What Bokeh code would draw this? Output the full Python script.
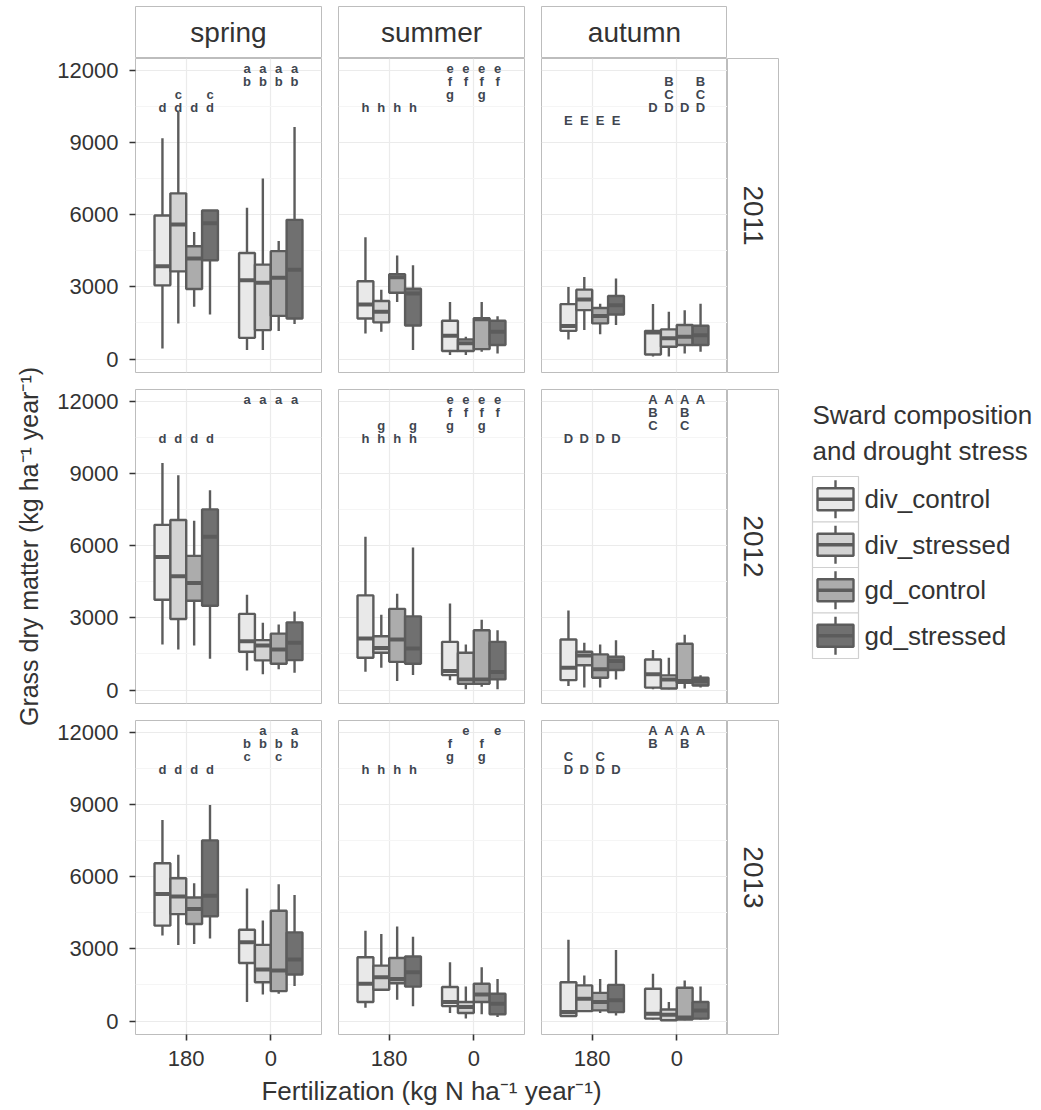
import math
from bokeh.plotting import figure
from bokeh.models import Range1d, FixedTicker, Label
from bokeh.layouts import row, column
from bokeh.core.properties import value
from bokeh.embed import file_html
from bokeh.resources import INLINE

# ---------------- data ----------------
seasons = ["spring", "summer", "autumn"]
years = ["2011", "2012", "2013"]
treatments = ["div_control", "div_stressed", "gd_control", "gd_stressed"]
fert_levels = ["180", "0"]
y_ticks = [0, 3000, 6000, 9000, 12000]
y_minor = [1500, 4500, 7500, 10500]

# each box: (lower whisker, Q1, median, Q3, upper whisker)
# order: fert 180 (4 treatments) then fert 0 (4 treatments)
spring_2011 = [(440, 3060, 3850, 5960, 9170), (1480, 3640, 5590, 6880, 10260),
               (2170, 2910, 4170, 4680, 5270), (1850, 4100, 5640, 6170, 6170),
               (370, 880, 3270, 4400, 6280), (370, 1200, 3170, 3920, 7500),
               (1160, 1790, 3370, 4480, 4900), (1450, 1680, 3710, 5780, 9640)]
summer_2011 = [(1060, 1680, 2260, 3230, 5060), (1130, 1520, 1960, 2410, 2880),
               (2370, 2750, 3400, 3520, 4300), (370, 1390, 2720, 2920, 3890),
               (170, 330, 970, 1590, 2370), (170, 330, 650, 810, 920),
               (300, 410, 1650, 1690, 2370), (230, 580, 1130, 1590, 1780)]
autumn_2011 = [(810, 1170, 1370, 2280, 2990), (1200, 2030, 2470, 2880, 3410),
               (1030, 1480, 1790, 2120, 2300), (1410, 1850, 2230, 2620, 3340),
               (100, 190, 1100, 1170, 2280), (100, 510, 860, 1230, 1960),
               (230, 580, 920, 1410, 2030), (300, 580, 990, 1380, 2300)]
spring_2012 = [(1890, 3750, 5520, 6860, 9430), (1680, 2950, 4720, 7060, 8920),
               (1850, 3710, 4440, 5570, 7030), (1300, 3500, 6370, 7500, 8300),
               (810, 1590, 2030, 3160, 3960), (650, 1230, 1850, 2070, 2790),
               (860, 1090, 1680, 2340, 2720), (720, 1240, 1960, 2810, 3260)]
summer_2012 = [(760, 1340, 2140, 3930, 6370), (920, 1550, 1750, 2230, 3130),
               (370, 1170, 2100, 3370, 4000), (620, 1090, 1720, 3060, 5920),
               (410, 620, 790, 2000, 3590), (30, 260, 440, 1550, 1890),
               (140, 260, 440, 2480, 2920), (30, 440, 750, 2000, 2480)]
autumn_2012 = [(170, 410, 920, 2100, 3300), (100, 1030, 1430, 1590, 1960),
               (100, 510, 860, 1480, 1890), (440, 830, 1200, 1380, 2070),
               (30, 100, 650, 1270, 1660), (30, 60, 440, 610, 1340),
               (60, 300, 370, 1920, 2300), (100, 190, 370, 510, 610)]
spring_2013 = [(3550, 3960, 5270, 6550, 8350), (3160, 4440, 5170, 5930, 6900),
               (3200, 4030, 4650, 5130, 5720), (3430, 4350, 5200, 7500, 8970),
               (790, 2410, 3270, 3790, 5500), (1100, 1610, 2140, 3160, 4170),
               (1130, 1240, 2100, 4580, 5680), (1450, 1930, 2550, 3680, 5230)]
summer_2013 = [(550, 790, 1550, 2650, 3750), (1250, 1300, 1820, 2300, 3610),
               (880, 1570, 1750, 2620, 3930), (610, 1430, 2030, 2680, 3500),
               (330, 620, 790, 1410, 2440), (100, 330, 580, 790, 1430),
               (280, 790, 1100, 1550, 2230), (170, 280, 720, 1130, 1750)]
autumn_2013 = [(170, 210, 370, 1610, 3370), (370, 410, 920, 1480, 1890),
               (330, 440, 790, 1170, 1750), (230, 370, 860, 1500, 2950),
               (60, 100, 300, 1340, 1960), (0, 30, 260, 480, 790),
               (30, 60, 150, 1380, 1680), (60, 100, 440, 790, 1430)]

# significance letters per box (same order)
spring_2011_letters = ["d", "cd", "d", "cd", "ab", "ab", "ab", "ab"]
summer_2011_letters = ["h", "h", "h", "h", "efg", "ef", "efg", "ef"]
autumn_2011_letters = ["E", "E", "E", "E", "D", "BCD", "D", "BCD"]
spring_2012_letters = ["d", "d", "d", "d", "a", "a", "a", "a"]
summer_2012_letters = ["h", "gh", "h", "gh", "efg", "ef", "efg", "ef"]
autumn_2012_letters = ["D", "D", "D", "D", "ABC", "A", "ABC", "A"]
spring_2013_letters = ["d", "d", "d", "d", "bc", "ab", "bc", "ab"]
summer_2013_letters = ["h", "h", "h", "h", "fg", "e", "fg", "e"]
autumn_2013_letters = ["CD", "D", "CD", "D", "AB", "A", "AB", "A"]

letter_base = {"spring": "a", "summer": "e", "autumn": "A"}

stats = {
    ("spring", "2011"): spring_2011, ("summer", "2011"): summer_2011, ("autumn", "2011"): autumn_2011,
    ("spring", "2012"): spring_2012, ("summer", "2012"): summer_2012, ("autumn", "2012"): autumn_2012,
    ("spring", "2013"): spring_2013, ("summer", "2013"): summer_2013, ("autumn", "2013"): autumn_2013,
}
letters = {
    ("spring", "2011"): spring_2011_letters, ("summer", "2011"): summer_2011_letters,
    ("autumn", "2011"): autumn_2011_letters, ("spring", "2012"): spring_2012_letters,
    ("summer", "2012"): summer_2012_letters, ("autumn", "2012"): autumn_2012_letters,
    ("spring", "2013"): spring_2013_letters, ("summer", "2013"): summer_2013_letters,
    ("autumn", "2013"): autumn_2013_letters,
}

# ---------------- style ----------------
FILLS = ["#e9e9e9", "#d3d3d3", "#acacac", "#707070"]
EDGE = "#5c5c5c"
BORDER = "#bdbdbd"
TEXT = "#333333"
FONT = "Liberation Sans"

FRAME_W, FRAME_H = 186, 314
GAP = 17
LEFT = 85
BOTTOM_AX = 42
STRIP_T = 58
STRIP_T_PAD = 6
STRIP_R = 52
YT_W = 50
LEG_W = 258
XT_H = 34
PAGE_H = STRIP_T + 2 * (FRAME_H + GAP) + FRAME_H + BOTTOM_AX + XT_H

DODGE = [-0.28125, -0.09375, 0.09375, 0.28125]
BOX_W = 0.1875
LETTER_TOP, LETTER_STEP = 12050, 540


def base_fig(width, height, xr, yr, left=0, right=0, top=0, bottom=0, xloc=None, yloc=None):
    p = figure(width=width, height=height, x_range=xr, y_range=yr,
               output_backend="svg", toolbar_location=None, tools="", title=None,
               min_border_left=left, min_border_right=right,
               min_border_top=top, min_border_bottom=bottom,
               x_axis_location=xloc, y_axis_location=yloc,
               background_fill_color="white", border_fill_color="white")
    return p


def blank(p):
    p.outline_line_color = None
    p.xgrid.grid_line_color = None
    p.ygrid.grid_line_color = None
    return p


def panel(si, yi):
    season, year = seasons[si], years[yi]
    left = LEFT if si == 0 else 0
    right = GAP if si < 2 else 0
    bottom = BOTTOM_AX if yi == 2 else GAP
    p = base_fig(left + FRAME_W + right, FRAME_H + bottom,
                 Range1d(0.4, 2.6), Range1d(-560, 12480),
                 left=left, right=right, bottom=bottom,
                 xloc="below" if yi == 2 else None, yloc="left" if si == 0 else None)
    p.outline_line_color = BORDER
    p.outline_line_width = 1
    p.xgrid.ticker = FixedTicker(ticks=[1, 2])
    p.ygrid.ticker = FixedTicker(ticks=y_ticks, minor_ticks=y_minor)
    p.xgrid.grid_line_color = "#ebebeb"
    p.ygrid.grid_line_color = "#ebebeb"
    p.ygrid.minor_grid_line_color = "#f5f5f5"
    p.xgrid.grid_line_width = 1.2
    p.ygrid.grid_line_width = 1.2
    for ax in list(p.xaxis) + list(p.yaxis):
        ax.axis_line_color = None
        ax.major_tick_line_color = TEXT
        ax.major_tick_line_width = 1.6
        ax.major_tick_out = 6
        ax.major_tick_in = 0
        ax.minor_tick_line_color = None
        ax.major_label_text_font = FONT
        ax.major_label_text_font_size = "22px"
        ax.major_label_text_color = TEXT
    if si == 0:
        p.yaxis.ticker = FixedTicker(ticks=y_ticks)
        p.yaxis.major_label_standoff = 11
    if yi == 2:
        p.xaxis.ticker = FixedTicker(ticks=[1, 2])
        p.xaxis.major_label_overrides = {1: fert_levels[0], 2: fert_levels[1]}
        p.xaxis.major_label_standoff = 10

    boxes = stats[(season, year)]
    xs, los, q1s, meds, q3s, his, fills = [], [], [], [], [], [], []
    for k, (lo, q1, med, q3, hi) in enumerate(boxes):
        f, t = divmod(k, 4)
        xs.append(1 + f + DODGE[t])
        los.append(lo); q1s.append(q1); meds.append(med); q3s.append(q3); his.append(hi)
        fills.append(FILLS[t])
    p.segment(x0=xs, y0=los, x1=xs, y1=his, line_color=EDGE, line_width=2.4)
    p.vbar(x=xs, width=BOX_W, top=q3s, bottom=q1s, fill_color=fills,
           line_color=EDGE, line_width=2.4)
    p.segment(x0=[x - BOX_W / 2 for x in xs], y0=meds, x1=[x + BOX_W / 2 for x in xs],
              y1=meds, line_color=EDGE, line_width=4)

    lx, ly, lt = [], [], []
    base = letter_base[season]
    for x, lab in zip(xs, letters[(season, year)]):
        for ch in lab:
            lx.append(x)
            ly.append(LETTER_TOP - LETTER_STEP * (ord(ch) - ord(base)))
            lt.append(ch)
    p.text(x=lx, y=ly, text=lt, text_font=value(FONT), text_font_style="bold",
           text_font_size="13px", text_color="#404650", text_align="center",
           text_baseline="middle")
    return p


def strip_top(si):
    left = LEFT if si == 0 else 0
    right = GAP if si < 2 else 0
    p = base_fig(left + FRAME_W + right, STRIP_T, Range1d(0, 1), Range1d(0, 1),
                 left=left, right=right, top=STRIP_T_PAD)
    blank(p)
    p.outline_line_color = BORDER
    p.add_layout(Label(x=0.5, y=0.5, text=seasons[si], text_align="center",
                       text_baseline="middle", text_font=FONT, text_font_size="28px",
                       text_color=TEXT))
    return p


def strip_right(yi):
    bottom = BOTTOM_AX if yi == 2 else GAP
    p = base_fig(STRIP_R, FRAME_H + bottom, Range1d(0, 1), Range1d(0, 1), bottom=bottom)
    blank(p)
    p.outline_line_color = BORDER
    p.add_layout(Label(x=0.5, y=0.5, text=years[yi], angle=-math.pi / 2,
                       text_align="center", text_baseline="middle", text_font=FONT,
                       text_font_size="28px", text_color=TEXT))
    return p


panels_mid = STRIP_T + (FRAME_H * 3 + GAP * 2) / 2

# y-axis title (page coordinates, y measured from top)
yt = blank(base_fig(YT_W, PAGE_H, Range1d(0, YT_W), Range1d(PAGE_H, 0)))
yt.add_layout(Label(x=28, y=panels_mid, angle=math.pi / 2,
                    text="Grass dry matter (kg ha\u207b\u00b9 year\u207b\u00b9)",
                    text_align="center", text_baseline="middle", text_font=FONT,
                    text_font_size="25px", text_color=TEXT))

# x-axis title
xt_w = LEFT + FRAME_W * 3 + GAP * 2
xt = blank(base_fig(xt_w, XT_H, Range1d(0, xt_w), Range1d(XT_H, 0)))
xt.add_layout(Label(x=LEFT + (FRAME_W * 3 + GAP * 2) / 2, y=14,
                    text="Fertilization (kg N ha\u207b\u00b9 year\u207b\u00b9)",
                    text_align="center", text_baseline="middle", text_font=FONT,
                    text_font_size="26px", text_color=TEXT))

# legend (page coordinates, y measured from top)
lg = blank(base_fig(LEG_W, PAGE_H, Range1d(0, LEG_W), Range1d(PAGE_H, 0)))
LX, LY0, KEY = 33, 414, 45.5
lg.add_layout(Label(x=LX, y=LY0, text="Sward composition", text_align="left",
                    text_baseline="middle", text_font=FONT, text_font_size="26px",
                    text_color=TEXT))
lg.add_layout(Label(x=LX, y=LY0 + 36, text="and drought stress", text_align="left",
                    text_baseline="middle", text_font=FONT, text_font_size="26px",
                    text_color=TEXT))
ktop = [LY0 + 62 + KEY * i for i in range(len(treatments))]
lg.quad(left=LX, right=LX + 46, top=ktop, bottom=[k + KEY for k in ktop],
        fill_color="white", line_color="#d0d0d0", line_width=1.2)
kc = [k + KEY / 2 for k in ktop]
lg.segment(x0=LX + 23, x1=LX + 23, y0=[c - 19 for c in kc], y1=[c + 19 for c in kc],
           line_color=EDGE, line_width=2.4)
lg.quad(left=LX + 5, right=LX + 41, top=[c - 11 for c in kc], bottom=[c + 11 for c in kc],
        fill_color=FILLS, line_color=EDGE, line_width=2.4)
lg.segment(x0=LX + 5, x1=LX + 41, y0=kc, y1=kc, line_color=EDGE, line_width=3.5)
lg.text(x=LX + 52, y=kc, text=treatments, text_font=value(FONT), text_font_size="26px",
        text_color=TEXT, text_align="left", text_baseline="middle")

main_rows = [row(*[strip_top(si) for si in range(3)])]
for yi in range(3):
    main_rows.append(row(*[panel(si, yi) for si in range(3)], strip_right(yi)))
main_rows.append(xt)
main = column(*main_rows)

layout = row(yt, main, lg)

open("out.html", "w").write(file_html(layout, INLINE))
